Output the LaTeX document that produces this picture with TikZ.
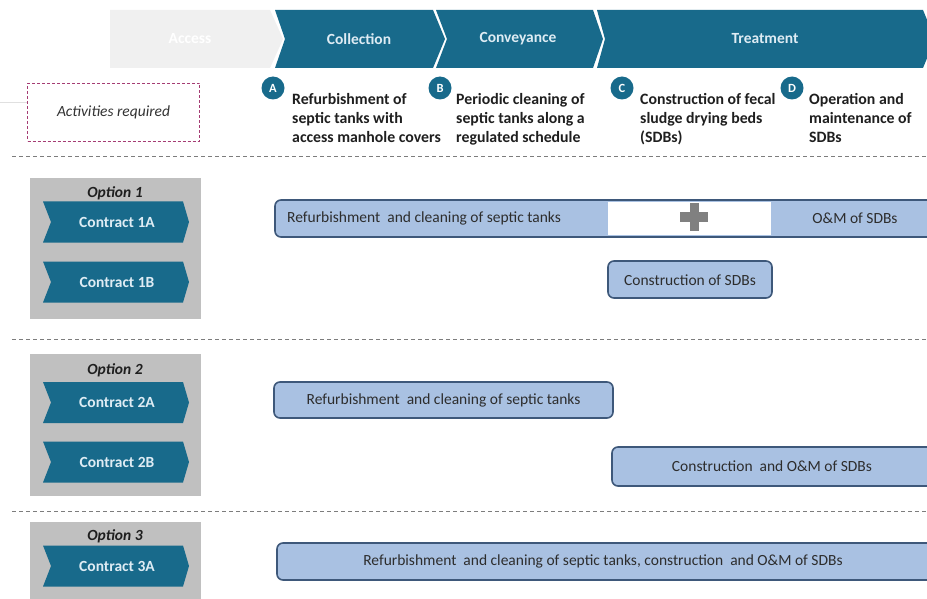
\documentclass[tikz,border=0pt]{standalone}
\usepackage{fontspec}
\setmainfont{Carlito}
\definecolor{tealA}{RGB}{24,106,139}
\definecolor{chevtext}{RGB}{222,236,244}
\definecolor{accessfill}{RGB}{240,240,240}
\definecolor{optgray}{RGB}{192,192,192}
\definecolor{boxfill}{RGB}{169,193,226}
\definecolor{boxborder}{RGB}{62,88,122}
\definecolor{boxtext}{RGB}{45,45,45}
\definecolor{sepgray}{RGB}{125,125,125}
\definecolor{actdash}{RGB}{165,60,115}
\definecolor{plusgray}{RGB}{128,128,128}
\begin{document}
\begin{tikzpicture}[x=1pt,y=-1pt,
  chevtxt/.style={text=chevtext,font=\fontsize{15.5}{18}\selectfont\bfseries,inner sep=0pt},
  contracttxt/.style={text=chevtext,font=\fontsize{15.5}{18}\selectfont\bfseries,inner sep=0pt},
  opttitle/.style={text=black!88,font=\fontsize{15.5}{18}\selectfont\bfseries\itshape,inner sep=0pt},
  optbox/.style={fill=optgray},
  bluebox/.style={draw=boxborder,line width=1.6pt,fill=boxfill,rounded corners=6pt},
  boxtxt/.style={text=boxtext,font=\fontsize{15.5}{18}\selectfont,inner sep=0pt},
  circ/.style={circle,fill=tealA,minimum size=23pt,inner sep=0pt,text=white,font=\fontsize{12.5}{12.5}\selectfont\bfseries},
  acttxt/.style={align=left,anchor=north west,font=\fontsize{15.8}{19}\selectfont\bfseries,text=black!88,inner sep=0pt},
  sepline/.style={draw=sepgray,dash pattern=on 4pt off 3pt,line width=1pt}
]
\clip (0,0) rectangle (927,599);
\fill[white] (0,0) rectangle (927,599);

% top chevrons
\fill[accessfill] (110,10) -- (270,10) -- (283,39) -- (270,68) -- (110,68) -- cycle;
\node[chevtxt,text=white] (access) at (190,39) {Access};
\fill[tealA] (275,10) -- (433,10) -- (445,39) -- (433,68) -- (275,68) -- (285,39) -- cycle;
\node[chevtxt] (collection) at (359,39) {Collection};
\fill[tealA] (436,10) -- (593,10) -- (603,39) -- (593,68) -- (436,68) -- (447,39) -- cycle;
\node[chevtxt] (conveyance) at (518,39) {Conveyance};
\fill[tealA] (597,10) -- (923,10) -- (935,39) -- (923,68) -- (597,68) -- (605,39) -- cycle;
\node[chevtxt] (treatment) at (765,39) {Treatment};

% faint line
\draw[black!12,line width=0.8pt] (0,102) -- (27,102);

% activities required
\node[draw=actdash,dash pattern=on 3pt off 2pt,line width=0.9pt,minimum width=172pt,minimum height=58pt,
      font=\fontsize{15.5}{17}\selectfont\itshape,text=black!80] (act) at (113.5,112) {Activities required};

% circles and activity texts
\node[circ] (cA) at (273,88) {A};
\node[circ] (cB) at (440,88) {B};
\node[circ] (cC) at (622,88) {C};
\node[circ] (cD) at (792,88) {D};
\node[acttxt] (tA) at (292,93) {Refurbishment of\\septic tanks with\\access manhole covers};
\node[acttxt] (tB) at (456,93) {Periodic cleaning of\\septic tanks along a\\regulated schedule};
\node[acttxt] (tC) at (640,93) {Construction of fecal\\sludge drying beds\\(SDBs)};
\node[acttxt] (tD) at (809,93) {Operation and\\maintenance of\\SDBs};

% separators
\draw[sepline] (12,157) -- (927,157);
\draw[sepline] (12,339) -- (927,339);
\draw[sepline] (12,511) -- (927,511);

% option boxes
\fill[optgray] (30,178) rectangle (201,319);
\node[opttitle] (o1) at (115,193) {Option 1};
\fill[optgray] (30,354) rectangle (201,496);
\node[opttitle] (o2) at (115,370) {Option 2};
\fill[optgray] (30,522) rectangle (201,605);
\node[opttitle] (o3) at (115,536) {Option 3};

% contract chevrons
\foreach \yc/\lab/\nm in {222/Contract 1A/c1a, 282/Contract 1B/c1b, 402.5/Contract 2A/c2a, 462/Contract 2B/c2b, 566/Contract 3A/c3a}{
  \fill[tealA] (43,\yc-20.5) -- (183,\yc-20.5) -- (189,\yc) -- (183,\yc+20.5) -- (43,\yc+20.5) -- (51,\yc) -- cycle;
  \node[contracttxt] (\nm) at (117,\yc) {\lab};
}

% option 1 bars
\draw[bluebox] (275,200) rectangle (945,237);
\fill[white] (608,202) rectangle (771,235);
\fill[plusgray] (680,212.5) rectangle (708,221.5);
\fill[plusgray] (689.5,203) rectangle (698.5,230.5);
\node[boxtxt,anchor=west] (r1) at (287,218) {Refurbishment\ \ and cleaning of septic tanks};
\node[boxtxt] (om1) at (855,218) {O\&M of SDBs};
\draw[bluebox] (608,261) rectangle (772,298);
\node[boxtxt] (cs1) at (690,280) {Construction of SDBs};

% option 2 bars
\draw[bluebox] (274,382) rectangle (613,418);
\node[boxtxt] (r2) at (443.5,400) {Refurbishment\ \ and cleaning of septic tanks};
\draw[bluebox] (612,447) rectangle (945,486);
\node[boxtxt] (cs2) at (772,466.5) {Construction\ \ and O\&M of SDBs};

% option 3 bar
\draw[bluebox] (277,543) rectangle (945,580);
\node[boxtxt] (r3) at (603,561.5) {Refurbishment\ \ and cleaning of septic tanks, construction\ \ and O\&M of SDBs};
\end{tikzpicture}
\end{document}
